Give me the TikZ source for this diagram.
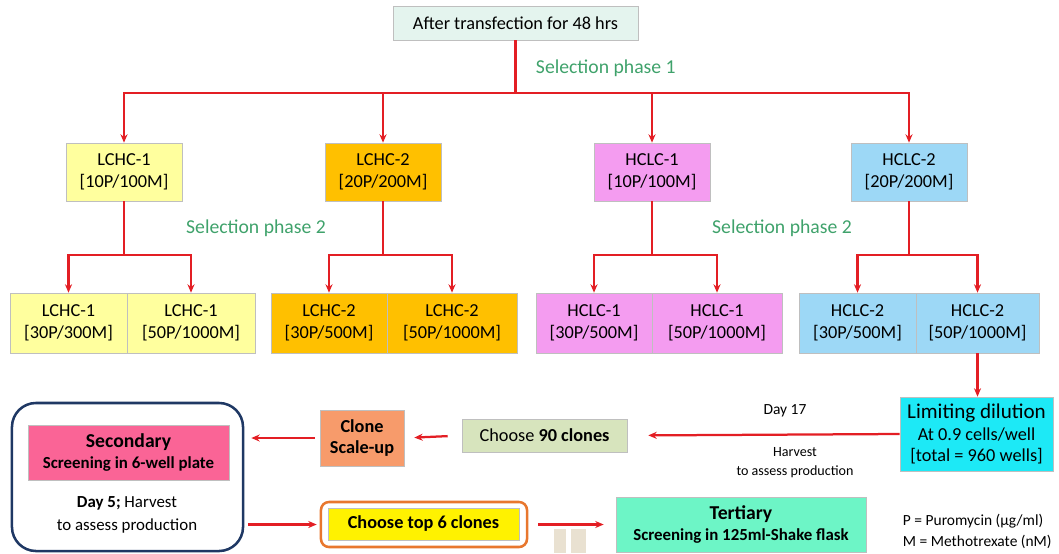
\documentclass[tikz,border=0pt]{standalone}
\usepackage{fontspec}
\setmainfont{Carlito}
\usepackage{tikz}
\usetikzlibrary{arrows.meta,calc,positioning}

\definecolor{arred}{HTML}{E31E24}
\definecolor{selgreen}{HTML}{3FA26B}
\definecolor{mintbg}{HTML}{E4F4EE}
\definecolor{lyellow}{HTML}{FFFF9E}
\definecolor{lgold}{HTML}{FFC000}
\definecolor{lpink}{HTML}{F49CF0}
\definecolor{lblue}{HTML}{9DD8F6}
\definecolor{lcyan}{HTML}{1DE9F6}
\definecolor{lolive}{HTML}{D7E4BD}
\definecolor{lorange}{HTML}{F79B6B}
\definecolor{lrose}{HTML}{FA6496}
\definecolor{laqua}{HTML}{6DF5C6}
\definecolor{navy}{HTML}{1F3864}
\definecolor{oborder}{HTML}{E8772E}
\definecolor{beige}{HTML}{E9E1D1}

\begin{document}
\begin{tikzpicture}[
  x=0.025cm, y=-0.025cm,
  font=\fontsize{13}{15.5}\selectfont,
  box/.style={draw=black!25, thin, align=center, inner sep=2pt},
  lvone/.style={box, minimum width=2.9cm, minimum height=1.45cm},
  lvtwo/.style={box, minimum height=1.5cm},
  line/.style={draw=arred, line width=1.6pt},
  arr/.style={line, -{Stealth[length=6pt,width=5pt]}},
  sel/.style={text=selgreen, font=\fontsize{14}{16}\selectfont},
  bold/.style={font=\fontsize{13}{15}\selectfont\bfseries},
]
\useasboundingbox (0,0) rectangle (1059,553);

% ---- top ----
\node[box, fill=mintbg, minimum width=6.125cm, minimum height=0.85cm] (top) at (515.5,23) {After transfection for 48 hrs};

% ---- selection phase 1 ----
\node[lvone, fill=lyellow] (lchcA) at (124,172) {LCHC-1\\{}[10P/100M]};
\node[lvone, fill=lgold]   (lchcB) at (383,172) {LCHC-2\\{}[20P/200M]};
\node[lvone, fill=lpink]   (hclcA) at (652,172) {HCLC-1\\{}[10P/100M]};
\node[lvone, fill=lblue]   (hclcB) at (909,172) {HCLC-2\\{}[20P/200M]};

% ---- selection phase 2 ----
\node[lvtwo, fill=lyellow, minimum width=2.925cm] (lchcA1) at (68.5,323)  {LCHC-1\\{}[30P/300M]};
\node[lvtwo, fill=lyellow, minimum width=3.2cm]   (lchcA2) at (191,323)   {LCHC-1\\{}[50P/1000M]};
\node[lvtwo, fill=lgold,   minimum width=2.9cm]   (lchcB1) at (329,323)   {LCHC-2\\{}[30P/500M]};
\node[lvtwo, fill=lgold,   minimum width=3.25cm]  (lchcB2) at (452,323)   {LCHC-2\\{}[50P/1000M]};
\node[lvtwo, fill=lpink,   minimum width=2.9cm]   (hclcA1) at (594,323)   {HCLC-1\\{}[30P/500M]};
\node[lvtwo, fill=lpink,   minimum width=3.25cm]  (hclcA2) at (717,323)   {HCLC-1\\{}[50P/1000M]};
\node[lvtwo, fill=lblue,   minimum width=2.925cm] (hclcB1) at (857.5,323) {HCLC-2\\{}[30P/500M]};
\node[lvtwo, fill=lblue,   minimum width=3.075cm] (hclcB2) at (977.5,323) {HCLC-2\\{}[50P/1000M]};

% ---- tree edges ----
\draw[line] (top.south) -- ++(0,53) coordinate (j0);
\foreach \n in {lchcA,lchcB,hclcA,hclcB}{
  \draw[arr] (j0) -| (\n.north);
  \draw[line] (\n.south) -- ++(0,54) coordinate (j\n);
  \draw[arr] (j\n) -| (\n1.north);
  \draw[arr] (j\n) -| (\n2.north);
}
\node[sel, anchor=west] (selone) at (531,68) {Selection phase 1};
\node[sel] (seltwoA) at (256,228) {Selection phase 2};
\node[sel] (seltwoB) at (782,228) {Selection phase 2};

% ---- cloning ----
\node[box, fill=lcyan, minimum width=3.825cm, minimum height=1.85cm, inner sep=1pt] (limit) at (976.5,434)
  {{\fontsize{15}{17}\selectfont Limiting dilution}\\At 0.9 cells/well\\{}[total = 960 wells]};
\node[box, fill=lolive, minimum width=4.125cm, minimum height=0.825cm] (ninety) at (544.5,435.5) {Choose \textbf{90 clones}};
\node[box, fill=lorange, bold, minimum width=2.1cm, minimum height=1.4cm] (scaleup) at (362,438) {Clone\\Scale-up};

\draw[arr] (hclcB2.south) -- (hclcB2.south |- limit.north);
\draw[arr, shorten >=0.525cm] (limit.west) -- (ninety.east);
\draw[arr, shorten <=0.35cm, shorten >=0.25cm] (ninety.west) -- (scaleup.east);
\node[font=\fontsize{11}{13}\selectfont] (dayseven) at (785,411) {Day 17};
\node[font=\fontsize{10}{13.5}\selectfont, align=center] (harvA) at (795,463) {Harvest\\to assess production};

% ---- secondary ----
\node[draw=navy, line width=1.8pt, rounded corners=0.6cm, minimum width=5.775cm, minimum height=3.7cm] (second) at (127.5,477) {};
\node[box, fill=lrose, minimum width=5.025cm, minimum height=1.375cm] (secpink) at (128.5,452.5)
  {{\fontsize{14}{16}\selectfont\bfseries Secondary}\\{\fontsize{12}{14}\selectfont\bfseries Screening in 6-well plate}};
\node[font=\fontsize{12}{16}\selectfont, align=center] (harvB) at (127,515) {\textbf{Day 5;} Harvest\\to assess production};
\draw[arr, shorten <=0.125cm, shorten >=0.175cm] (scaleup.west) -- (second.east |- scaleup.west);

% ---- top 6 and tertiary ----
\node[draw=oborder, line width=1.8pt, rounded corners=0.2cm, minimum width=5.15cm, minimum height=1.125cm] (topsix) at (424,524.5) {};
\node[box, fill=yellow, bold, minimum width=4.775cm, minimum height=0.8cm] (topsixin) at (423.5,524) {Choose top 6 clones};
\node[box, fill=laqua, minimum width=6.25cm, minimum height=1.375cm] (tert) at (741,524.5)
  {{\fontsize{14}{16}\selectfont\bfseries Tertiary}\\{\fontsize{12}{14}\selectfont\bfseries Screening in 125ml-Shake flask}};
\draw[arr, shorten <=0.1cm, shorten >=0.075cm] (second.east |- topsix.west) -- (topsix.west);
\draw[arr, shorten <=0.25cm, shorten >=0.3cm] (topsix.east) -- (tert.west);

% ---- beige marks ----
\fill[beige] (554,529) rectangle (566,553);
\fill[beige] (571,529) rectangle (586,553);

% ---- legend ----
\node[font=\fontsize{11}{15}\selectfont, align=left, anchor=west] (legend) at (898,531)
  {P = Puromycin (µg/ml)\\M = Methotrexate (nM)};
\end{tikzpicture}
\end{document}
